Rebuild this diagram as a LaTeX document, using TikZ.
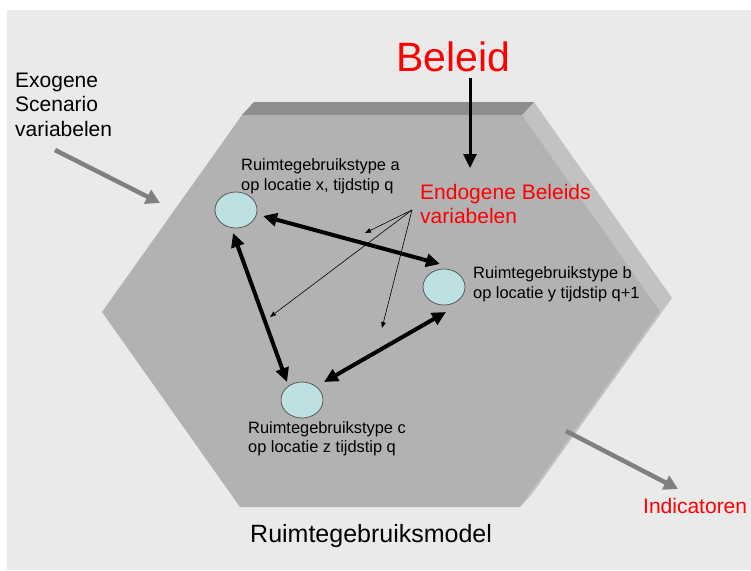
\documentclass[tikz,border=0pt]{standalone}
\usepackage{fontspec}
\setmainfont{Liberation Sans}
\usetikzlibrary{arrows.meta,shapes.geometric}
\definecolor{bg}{HTML}{EAEAEA}
\definecolor{face}{HTML}{B2B2B2}
\definecolor{topbev}{HTML}{8D8D8D}
\definecolor{sidebev}{HTML}{C2C2C2}
\definecolor{cell}{HTML}{BDE0E3}
\definecolor{garrow}{HTML}{808080}
\begin{document}
\begin{tikzpicture}[x=1pt,y=-1pt,
  cellnode/.style={ellipse,draw=black!70,line width=0.7pt,fill=cell,minimum width=42pt,minimum height=36pt,inner sep=0pt},
  lbl/.style={anchor=base west,inner sep=0pt,font=\fontsize{16.4}{19}\selectfont},
  redlbl/.style={anchor=base west,inner sep=0pt,text=red,font=\fontsize{21}{24}\selectfont},
  blklbl/.style={anchor=base west,inner sep=0pt,font=\fontsize{21}{24}\selectfont},
  biglink/.style={line width=4pt,{Triangle[length=14pt,width=13pt]}-{Triangle[length=14pt,width=13pt]}},
  thinlink/.style={line width=0.6pt,-{Triangle[length=6pt,width=4.5pt]}},
  grayarrow/.style={draw=garrow,line width=4.5pt,-{Triangle[length=14pt,width=15pt]}},
  policyarrow/.style={line width=3pt,-{Triangle[length=14pt,width=13pt]}}
]
\useasboundingbox (0,0) rectangle (751,570);
\fill[white] (0,0) rectangle (751,570);
\fill[bg] (7,10) rectangle (751,570);

% hexagonal prism
\fill[sidebev] (522,115) -- (534,102) -- (672,298) -- (660,311) -- cycle;
\fill[sidebev] (660,311) -- (672,298) -- (532,494) -- (520,507) -- cycle;
\fill[topbev] (242,115) -- (254,102) -- (534,102) -- (522,115) -- cycle;
\fill[face] (242,115) -- (522,115) -- (660,311) -- (520,507) -- (240,507) -- (102,312) -- cycle;

% cells
\node[cellnode] (a) at (236,210) {};
\node[cellnode] (b) at (444,287) {};
\node[cellnode] (c) at (302,400) {};

% cell labels
\node[lbl] (la1) at (241,170) {Ruimtegebruikstype a};
\node[lbl] (la2) at (241,190) {op locatie x, tijdstip q};
\node[lbl] (lb1) at (473,278) {Ruimtegebruikstype b};
\node[lbl] (lb2) at (473,298) {op locatie y tijdstip q+1};
\node[lbl] (lc1) at (248,433) {Ruimtegebruikstype c};
\node[lbl] (lc2) at (248,452) {op locatie z tijdstip q};

% other labels
\node[anchor=base,inner sep=0pt,text=red,font=\fontsize{41}{45}\selectfont] (beleid) at (453.5,71) {Beleid};
\node[redlbl] (endo1) at (420,199) {Endogene Beleids};
\node[redlbl] (endo2) at (420,223) {variabelen};
\node[blklbl] (exo1) at (15,87) {Exogene};
\node[blklbl] (exo2) at (15,111) {Scenario};
\node[blklbl] (exo3) at (15,136) {variabelen};
\node[redlbl] (ind) at (643,513) {Indicatoren};
\node[anchor=base west,inner sep=0pt,font=\fontsize{25}{28}\selectfont] (model) at (250,542) {Ruimtegebruiksmodel};

% connector end points
\coordinate (pTop) at (470,78);
\coordinate (pBot) at (470,168);
\coordinate (ab1) at (263,216);
\coordinate (ab2) at (440,264);
\coordinate (ac1) at (233,233);
\coordinate (ac2) at (287,382);
\coordinate (bc1) at (446,312);
\coordinate (bc2) at (324,382);
\coordinate (src) at (412,210);
\coordinate (t1) at (365,233);
\coordinate (t2) at (270,317);
\coordinate (t3) at (382,328);
\coordinate (exoS) at (55,150);
\coordinate (exoT) at (160,203);
\coordinate (indS) at (566,431);
\coordinate (indT) at (678,489);

% arrows
\draw[policyarrow] (pTop) -- (pBot);
\draw[biglink] (ab1) -- (ab2);
\draw[biglink] (ac1) -- (ac2);
\draw[biglink] (bc1) -- (bc2);
\draw[thinlink] (src) -- (t1);
\draw[thinlink] (src) -- (t2);
\draw[thinlink] (src) -- (t3);
\draw[grayarrow] (exoS) -- (exoT);
\draw[grayarrow] (indS) -- (indT);
\end{tikzpicture}
\end{document}
